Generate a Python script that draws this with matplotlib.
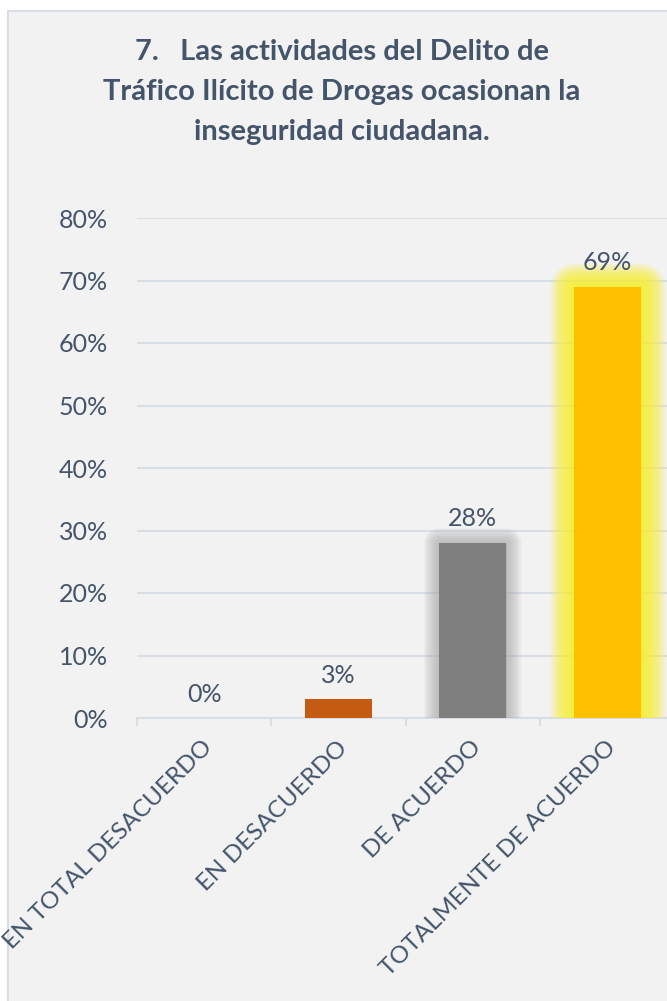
import matplotlib
matplotlib.use("Agg")
import matplotlib.pyplot as plt
import matplotlib.patheffects as pe
import matplotlib.transforms as mtransforms
from matplotlib.patches import Rectangle

plt.rcParams['font.family'] = ['Lato', 'DejaVu Sans']

categories = ["EN TOTAL DESACUERDO", "EN DESACUERDO", "DE ACUERDO", "TOTALMENTE DE ACUERDO"]
values = [0, 3, 28, 69]
bar_colors = ["#4472C4", "#C55A11", "#7F7F7F", "#FFC000"]
yticks = [0, 10, 20, 30, 40, 50, 60, 70, 80]
title_lines = ["7.   Las actividades del Delito de",
               "Tráfico Ilícito de Drogas ocasionan la",
               "inseguridad ciudadana."]

text_color = "#44546A"
grid_color = "#D9DEE6"

fig = plt.figure(figsize=(6.67, 10.01), dpi=100)
fig.patch.set_facecolor("white")

# chart area background (runs off the right and bottom edges like the original)
bg = Rectangle((8 / 667, -0.05), 1.1, 1 - 11 / 1001 + 0.05, transform=fig.transFigure,
               facecolor="#F2F2F2", edgecolor=grid_color, linewidth=1.5, zorder=-10)
fig.patches.append(bg)

for i, line in enumerate(title_lines):
    fig.text(342 / 667, 1 - (52 + 40 * i) / 1001, line, ha="center", va="center",
             fontsize=21, fontweight="bold", color=text_color)

ax = fig.add_axes([137 / 667, 1 - 718 / 1001, 537.3 / 667, 500 / 1001])
ax.set_facecolor("none")
ax.set_zorder(2)

x = list(range(len(categories)))
bars = ax.bar(x, values, width=0.5, color=bar_colors, zorder=3)


def glow(color, max_lw, n, alpha):
    effects = []
    for k in range(n):
        lw = max_lw * (n - k) / n
        effects.append(pe.Stroke(linewidth=lw, foreground=color, alpha=alpha,
                                 joinstyle="round"))
    effects.append(pe.Normal())
    return effects


bars[2].set_path_effects(glow("#A6A6A6", 22, 10, 0.09))
bars[3].set_path_effects(glow("#FAEE32", 34, 12, 0.16))

ax.bar_label(bars, labels=[f"{v}%" for v in values], padding=9,
             fontsize=18, color=text_color)

ax.set_xlim(-0.5, len(categories) - 0.5)
ax.set_ylim(0, 80)
ax.set_yticks(yticks)
ax.set_yticklabels([f"{t}%" for t in yticks], fontsize=18, color=text_color)
ax.tick_params(axis="y", length=0, pad=21)
ax.yaxis.grid(True, color=grid_color, linewidth=1.5)
ax.set_axisbelow(True)

ax.set_xticks(x)
ax.set_xticklabels(categories, fontsize=17.5, color=text_color, rotation=45,
                   ha="right", va="center", rotation_mode="anchor")
ax.tick_params(axis="x", which="major", length=0, pad=19)
# nudge the slanted labels a little to the right
shift = mtransforms.ScaledTranslation(5 / 100, 0, fig.dpi_scale_trans)
for lbl in ax.get_xticklabels():
    lbl.set_transform(lbl.get_transform() + shift)
ax.set_xticks([i - 0.5 for i in range(len(categories) + 1)], minor=True)
ax.tick_params(axis="x", which="minor", length=6, width=1.5, color=grid_color)

for side in ["top", "right", "left"]:
    ax.spines[side].set_visible(False)
ax.spines["bottom"].set_color(grid_color)
ax.spines["bottom"].set_linewidth(1.5)

fig.savefig("out.png", dpi=100)
